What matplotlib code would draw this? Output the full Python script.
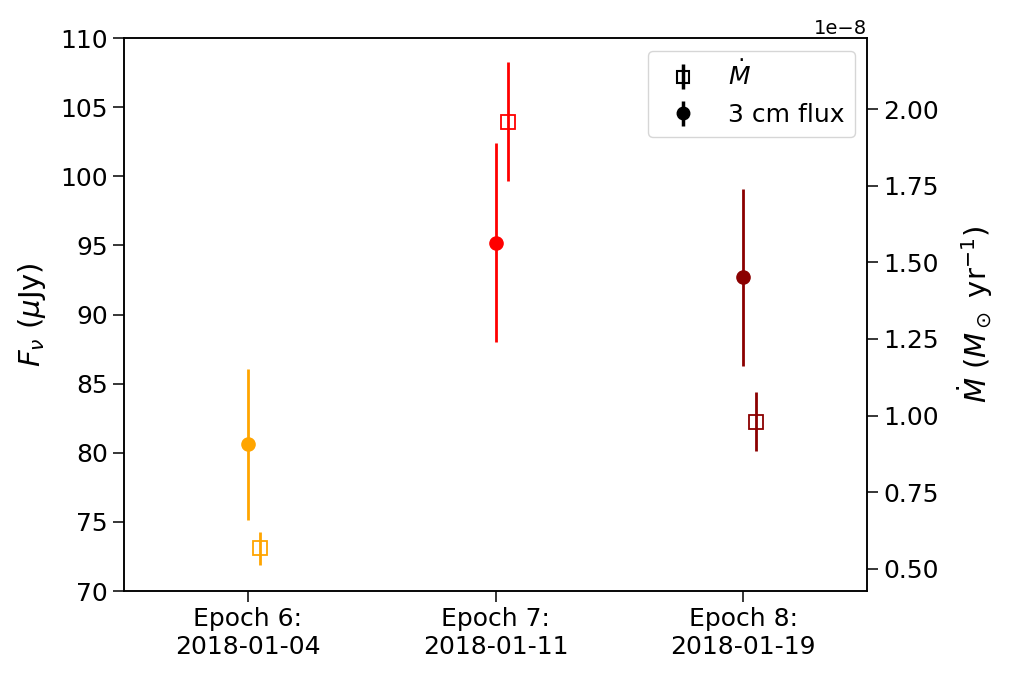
import matplotlib

matplotlib.use("Agg")

from matplotlib import pyplot as plt

epoch_labels = ["Epoch 6:\n2018-01-04", "Epoch 7:\n2018-01-11", "Epoch 8:\n2018-01-19"]
epoch_colors = ["orange", "red", "darkred"]

flux = [80.6, 95.2, 92.7]
flux_err = [5.45, 7.2, 6.4]

mdot = [0.567e-8, 1.959e-8, 0.980e-8]
mdot_err = [0.055e-8, 0.194e-8, 0.097e-8]

MDOT_SHIFT = 0.05

plt.rcParams.update({"font.family": "DejaVu Sans", "font.size": 14})

fig = plt.figure(figsize=(10.09, 6.79), dpi=100)
ax = fig.add_axes([0.1229, 0.1296, 0.7364, 0.8144])
ax2 = ax.twinx()

for i, color in enumerate(epoch_colors):
    ax.errorbar(i, flux[i], yerr=flux_err[i], fmt="o", color=color,
                markersize=9.5, elinewidth=2, capsize=0)
    ax2.errorbar(i + MDOT_SHIFT, mdot[i], yerr=mdot_err[i], fmt="s", color=color,
                 markerfacecolor="none", markeredgewidth=1.3, markersize=9.5,
                 elinewidth=2, capsize=0)

ax.set_xlim(-0.5, 2.5)
ax.set_ylim(70, 110)
ax2.set_ylim(0.428e-8, 2.2315e-8)
ax.set_xticks(range(len(epoch_labels)), epoch_labels)
ax.set_ylabel(r"$F_\nu$ ($\mu$Jy)", fontsize=21, labelpad=9)
ax2.set_ylabel(r"$\dot{M}$ ($M_\odot$ yr$^{-1}$)", fontsize=21, labelpad=12)
for a in (ax, ax2):
    a.tick_params(length=8, width=1.1, labelsize=18)
    for spine in a.spines.values():
        spine.set_linewidth(1.1)

handles = [
    ax2.errorbar([], [], yerr=[], fmt="s", color="black", markerfacecolor="none",
                 markersize=9, markeredgewidth=1.5, elinewidth=2.5, capsize=0),
    ax.errorbar([], [], yerr=[], fmt="o", color="black", markersize=9,
                elinewidth=2.5, capsize=0),
]
ax2.legend(handles, [r"$\dot{M}$", "3 cm flux"], loc="upper right", fontsize=18)

fig.savefig("out.png", dpi=100)
